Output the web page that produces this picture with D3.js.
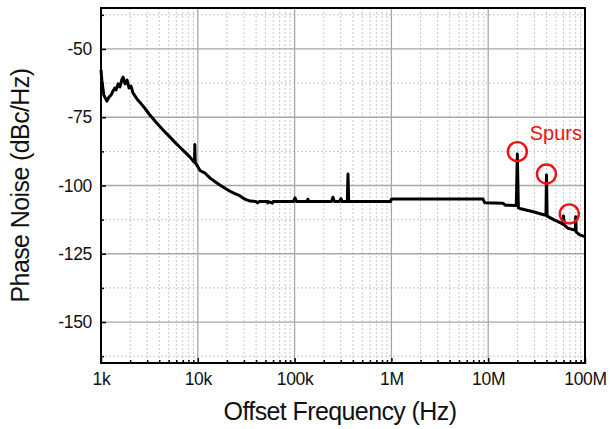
<!DOCTYPE html>
<html>
<head>
<meta charset="utf-8">
<script src="https://cdn.jsdelivr.net/npm/d3@7"></script>
<style>
  body { margin: 0; background: #fff; }
  text { font-family: "Liberation Sans", Arial, sans-serif; }
</style>
</head>
<body>
<div id="chart"></div>
<script>
// DATA
let freqs = [
  1000, 1020, 1070, 1150, 1210, 1270, 1330, 1390, 1430, 1500,
  1570, 1650, 1690, 1770, 1860, 1950, 2040, 2140, 2350, 2590,
  2850, 3200, 3610, 4060, 4580, 5160, 5810, 6540, 7370, 8310,
  9100, 9250, 9320, 9400, 10000, 10600, 11900, 13400, 15100, 16900,
  19100, 21500, 24200, 27300, 30700, 34600, 40000, 41500, 43000, 52000,
  52800, 53500, 59000, 60000, 97000, 101000, 105000, 135000, 137000, 140000,
  240000, 249000, 258000, 290000, 301000, 310000, 350000, 356000, 362000, 980000,
  1000000, 1030000, 8800000, 9200000, 14200000, 15000000, 19500000, 20000000, 20500000, 21200000,
  29100000, 38300000, 39500000, 40000000, 40600000, 41600000, 48000000, 56900000, 59000000, 60000000,
  61000000, 67100000, 78000000, 79500000, 80200000, 81000000, 88100000, 100000000
];
let noise = [
  -57.7, -61.4, -66.9, -69.1, -67.6, -66.9, -65.4, -64.3, -65.0, -62.8,
  -63.9, -61.0, -60.3, -62.8, -61.4, -64.3, -63.6, -66.1, -68.3, -70.0,
  -71.8, -74.2, -76.4, -78.4, -80.4, -82.3, -84.2, -86.0, -87.8, -89.6,
  -91.3, -91.5, -85.0, -91.6, -93.1, -94.6, -95.5, -97.3, -98.6, -99.8,
  -101.0, -102.1, -103.0, -103.8, -105.0, -105.7, -105.9, -106.4, -105.9, -105.9,
  -106.4, -105.9, -106.4, -105.9, -105.9, -104.5, -105.9, -105.9, -105.0, -105.9,
  -105.9, -104.3, -105.9, -105.9, -104.8, -105.9, -105.9, -95.8, -105.9, -105.9,
  -105.0, -104.9, -104.9, -106.3, -106.5, -107.2, -107.3, -88.5, -108.2, -108.4,
  -109.6, -110.8, -110.9, -96.2, -111.2, -111.4, -112.6, -113.8, -114.2, -111.2,
  -114.5, -115.7, -116.3, -116.5, -111.4, -117.0, -118.1, -118.7
];

// spur markers (circle centres)
let spurFreqs = [20000000, 40000000, 68800000];
let spurLevels = [-87.6, -95.8, -110.4];

let xTickValues = [1e3, 1e4, 1e5, 1e6, 1e7, 1e8];
let xTickLabels = ["1k", "10k", "100k", "1M", "10M", "100M"];
let yTickValues = [-50, -75, -100, -125, -150];
let yTickLabels = ["-50", "-75", "-100", "-125", "-150"];
let yMinorValues = [-37.5, -62.5, -87.5, -112.5, -137.5, -162.5];

//Create DIMENSIONS
let WIDTH = 610,
  HEIGHT = 429,
  MARGIN = { top: 8, right: 25, bottom: 66, left: 101 };
let innerW = WIDTH - MARGIN.left - MARGIN.right,
  innerH = HEIGHT - MARGIN.top - MARGIN.bottom;

let svg = d3
  .select("#chart")
  .append("svg")
  .attr("width", WIDTH)
  .attr("height", HEIGHT);

let g = svg.append("g").attr("transform", `translate(${MARGIN.left}, ${MARGIN.top})`);

let xScale = d3.scaleLog().domain([1e3, 1e8]).range([0, innerW]);
let yScale = d3.scaleLinear().domain([-165, -35]).range([innerH, 0]);

// minor x positions 2..9 per decade
let xMinor = [];
xTickValues.slice(0, -1).forEach((d) => {
  for (let k = 2; k <= 9; k++) xMinor.push(d * k);
});

//GRID
g.append("g")
  .selectAll("line")
  .data(xMinor)
  .enter()
  .append("line")
  .attr("x1", (d) => xScale(d))
  .attr("x2", (d) => xScale(d))
  .attr("y1", 0)
  .attr("y2", innerH)
  .attr("stroke", "#c8c8c8")
  .attr("stroke-width", 1)
  .attr("stroke-dasharray", "2,2");

g.append("g")
  .selectAll("line")
  .data(yMinorValues)
  .enter()
  .append("line")
  .attr("x1", 0)
  .attr("x2", innerW)
  .attr("y1", (d) => yScale(d))
  .attr("y2", (d) => yScale(d))
  .attr("stroke", "#c8c8c8")
  .attr("stroke-width", 1)
  .attr("stroke-dasharray", "2,2");

g.append("g")
  .selectAll("line")
  .data(xTickValues)
  .enter()
  .append("line")
  .attr("x1", (d) => xScale(d))
  .attr("x2", (d) => xScale(d))
  .attr("y1", 0)
  .attr("y2", innerH)
  .attr("stroke", "#a8a8a8")
  .attr("stroke-width", 1.3);

g.append("g")
  .selectAll("line")
  .data(yTickValues)
  .enter()
  .append("line")
  .attr("x1", 0)
  .attr("x2", innerW)
  .attr("y1", (d) => yScale(d))
  .attr("y2", (d) => yScale(d))
  .attr("stroke", "#a8a8a8")
  .attr("stroke-width", 1.3);

//AXES
let yAxis = g
  .append("g")
  .call(
    d3.axisLeft(yScale)
      .tickValues(yTickValues)
      .tickSize(-5)
      .tickPadding(9)
      .tickFormat((d, i) => yTickLabels[i])
  );
let yMinorAxis = g
  .append("g")
  .call(d3.axisLeft(yScale).tickValues(yMinorValues).tickSize(-3).tickFormat(""));

let xAxis = g
  .append("g")
  .attr("transform", `translate(0,${innerH})`)
  .call(
    d3.axisBottom(xScale)
      .tickValues(xTickValues)
      .tickSize(-5)
      .tickPadding(10)
      .tickFormat((d, i) => xTickLabels[i])
  );
let xMinorAxis = g
  .append("g")
  .attr("transform", `translate(0,${innerH})`)
  .call(d3.axisBottom(xScale).tickValues(xMinor).tickSize(-3).tickFormat(""));

[yAxis, yMinorAxis, xAxis, xMinorAxis].forEach((a) => {
  a.select(".domain").remove();
  a.selectAll(".tick line").attr("stroke", "#000").attr("stroke-width", 1.5);
});
[yAxis, xAxis].forEach((a) => {
  a.selectAll(".tick text")
    .style("font-size", "17.5px")
    .style("letter-spacing", "-0.3px")
    .attr("fill", "#111");
});

//FRAME
g.append("rect")
  .attr("x", 0)
  .attr("y", 0)
  .attr("width", innerW)
  .attr("height", innerH)
  .attr("fill", "none")
  .attr("stroke", "#000")
  .attr("stroke-width", 2);

//LINE
let data = freqs.map((f, i) => ({ f: f, v: noise[i] }));
g.append("path")
  .datum(data)
  .attr(
    "d",
    d3
      .line()
      .x((d) => xScale(d.f))
      .y((d) => yScale(d.v))
  )
  .attr("fill", "none")
  .attr("stroke", "#000")
  .attr("stroke-width", 3)
  .attr("stroke-linejoin", "round");

//SPUR MARKERS
g.append("g")
  .selectAll("circle")
  .data(spurFreqs)
  .enter()
  .append("circle")
  .attr("cx", (d) => xScale(d))
  .attr("cy", (d, i) => yScale(spurLevels[i]))
  .attr("r", 9.5)
  .attr("fill", "none")
  .attr("stroke", "#ee1111")
  .attr("stroke-width", 2.4);

g.append("text")
  .attr("x", xScale(5e7))
  .attr("y", yScale(-83.3))
  .attr("text-anchor", "middle")
  .attr("fill", "#ee1111")
  .style("font-size", "20px")
  .text("Spurs");

//TITLES
svg.append("text")
  .attr("x", MARGIN.left + innerW / 2 - 3)
  .attr("y", 420)
  .attr("text-anchor", "middle")
  .attr("fill", "#111")
  .style("font-size", "25px")
  .style("letter-spacing", "-0.6px")
  .text("Offset Frequency (Hz)");

svg.append("text")
  .attr("transform", `translate(29, ${MARGIN.top + innerH / 2}) rotate(-90)`)
  .attr("text-anchor", "middle")
  .attr("fill", "#111")
  .style("font-size", "25px")
  .style("letter-spacing", "-0.6px")
  .text("Phase Noise (dBc/Hz)");
</script>
</body>
</html>
